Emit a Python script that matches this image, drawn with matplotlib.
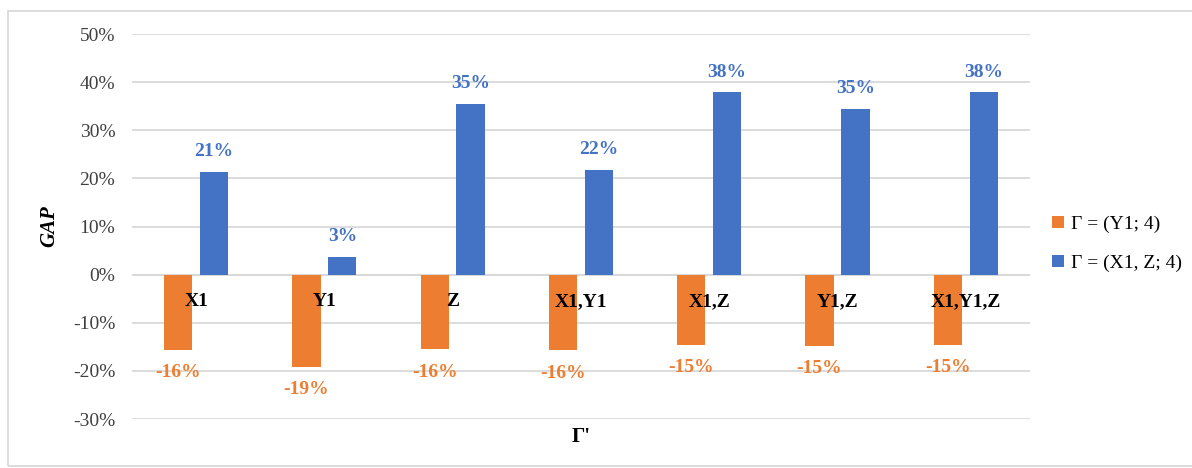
import numpy as np
import matplotlib
matplotlib.use('Agg')
import matplotlib.pyplot as plt
from matplotlib.patches import Rectangle
from matplotlib.ticker import FuncFormatter

plt.rcParams['font.family'] = ['Liberation Serif', 'DejaVu Serif']

categories = ['X1', 'Y1', 'Z', 'X1,Y1', 'X1,Z', 'Y1,Z', 'X1,Y1,Z']
gap_y1 = [-15.6, -19.1, -15.5, -15.7, -14.6, -14.8, -14.6]
gap_x1z = [21.4, 3.7, 35.5, 21.8, 37.9, 34.5, 37.9]
labels_y1 = ['-16%', '-19%', '-16%', '-16%', '-15%', '-15%', '-15%']
labels_x1z = ['21%', '3%', '35%', '22%', '38%', '35%', '38%']
series_names = ['\u0393 = (Y1; 4)', '\u0393 = (X1, Z; 4)']

orange = '#ED7D31'
blue = '#4472C4'

fig = plt.figure(figsize=(11.92, 4.68), dpi=100)
ax = fig.add_axes([0.1107, 0.1047, 0.7533, 0.8226])

x = np.arange(len(categories))
w = 0.22
ax.bar(x - 0.14, gap_y1, w, color=orange, label=series_names[0], zorder=3)
ax.bar(x + 0.14, gap_x1z, w, color=blue, label=series_names[1], zorder=3)

# data labels
for xi, v, s in zip(x, gap_y1, labels_y1):
    ax.text(xi - 0.14, v - 3.0, s, ha='center', va='top', color=orange,
            fontsize=14, fontweight='bold')
for xi, v, s in zip(x, gap_x1z, labels_x1z):
    ax.text(xi + 0.14, v + 2.4, s, ha='center', va='bottom', color=blue,
            fontsize=14, fontweight='bold')

# category labels sit just under the zero line
for xi, c in zip(x, categories):
    ax.text(xi, -5.6, c, ha='center', va='center', color='black',
            fontsize=14, fontweight='bold')

ax.set_xlim(-0.5, len(categories) - 0.5)
ax.set_ylim(-30, 50)
ax.set_yticks(np.arange(-30, 51, 10))
ax.yaxis.set_major_formatter(FuncFormatter(lambda v, p: '%d%%' % v))
ax.set_xticks([])
ax.tick_params(axis='y', length=0, labelsize=14, colors='#404040', pad=12)
ax.grid(axis='y', color='#D9D9D9', linewidth=1.3, zorder=0)
ax.axhline(0, color='#D9D9D9', linewidth=1.3, zorder=2)
for sp in ax.spines.values():
    sp.set_visible(False)

ax.set_ylabel('GAP', fontsize=15, fontstyle='italic', fontweight='bold', labelpad=10)
fig.text(0.4875, 0.066, "\u0393'", ha='center', va='center', fontsize=15,
         fontweight='bold')

ax.legend(loc='center left', bbox_to_anchor=(1.005, 0.455), frameon=False,
          fontsize=14, handlelength=0.6, handleheight=0.6,
          handletextpad=0.4, labelspacing=1.1)

# outer border of the chart
fig.patches.append(Rectangle((8 / 1192, 2 / 468), 1.2, 455 / 468,
                             transform=fig.transFigure, fill=False,
                             edgecolor='#D9D9D9', linewidth=1.3))

fig.savefig('out.png', dpi=100)
